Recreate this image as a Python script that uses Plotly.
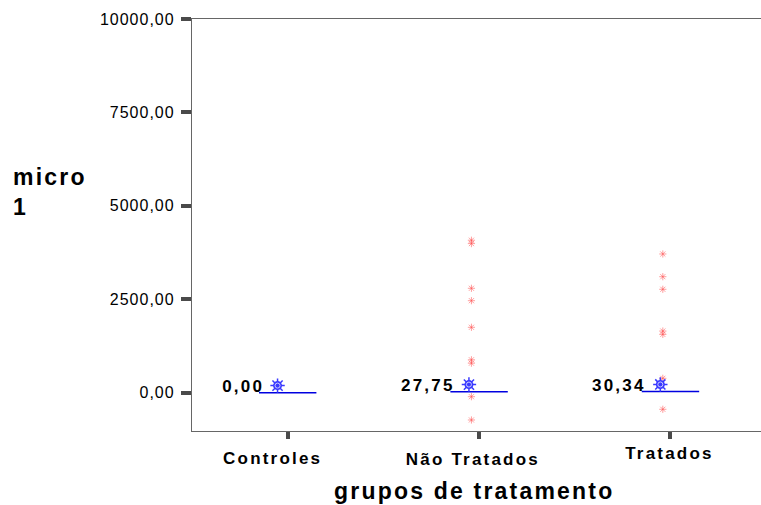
import plotly.graph_objects as go

# ---- data ----
categories = ["Controles", "Não Tratados", "Tratados"]
mean_values = [0.0, 27.75, 30.34]
mean_labels = ["0,00", "27,75", "30,34"]
nao_tratados_points = [4080, 3990, 2794, 2462, 1750, 880, 790, -107, -730]
tratados_points = [3712, 3104, 2767, 1650, 1560, 385, -444]
y_tick_vals = [0, 2500, 5000, 7500, 10000]
y_tick_text = ["0,00", "2500,00", "5000,00", "7500,00", "10000,00"]

# ---- style constants ----
POINT_DX = -0.04
MEAN_MARK_DX = -0.053
MEAN_MARK_LIFT = 190
HALF_LINE = 0.15
BOLD = "Liberation Sans"
RED = "rgba(255,80,80,0.55)"

fig = go.Figure()

# red individual points
for idx, pts in [(1, nao_tratados_points), (2, tratados_points)]:
    fig.add_trace(go.Scatter(
        x=[idx + POINT_DX] * len(pts), y=pts, mode="markers",
        marker=dict(symbol="asterisk-open", size=6, color=RED,
                    line=dict(color=RED, width=1)),
        hoverinfo="skip", showlegend=False))

# mean lines
for idx, m in enumerate(mean_values):
    fig.add_trace(go.Scatter(
        x=[idx - HALF_LINE, idx + HALF_LINE], y=[m, m], mode="lines",
        line=dict(color="#0000e0", width=1.5),
        hoverinfo="skip", showlegend=False))

# mean markers (gear-like)
mark_x = [i + MEAN_MARK_DX for i in range(len(categories))]
mark_y = [m + MEAN_MARK_LIFT for m in mean_values]
fig.add_trace(go.Scatter(
    x=mark_x, y=mark_y, mode="markers",
    marker=dict(symbol="circle", size=9, color="#3a3aff",
                line=dict(color="#2020ff", width=0)),
    hoverinfo="skip", showlegend=False))
fig.add_trace(go.Scatter(
    x=mark_x, y=mark_y, mode="markers",
    marker=dict(symbol="asterisk-open", size=12, color="#3a3aff",
                line=dict(color="#3a3aff", width=1.5)),
    hoverinfo="skip", showlegend=False))
fig.add_trace(go.Scatter(
    x=mark_x, y=mark_y, mode="markers",
    marker=dict(symbol="circle-open", size=5, color="#c8c8ff",
                line=dict(color="#c8c8ff", width=1)),
    hoverinfo="skip", showlegend=False))

annotations = []
# mean value labels
for idx, (m, lab) in enumerate(zip(mean_values, mean_labels)):
    annotations.append(dict(
        x=idx, y=m, xref="x", yref="y", text=lab, showarrow=False,
        xanchor="right", yanchor="middle", align="right",
        xshift=-22, yshift=6,
        font=dict(family=BOLD, size=17, color="#000", weight="bold")))

# category labels
cat_shifts = [(-15, -27), (-6, -28), (-1, -22)]
for idx, (cat, (dx, dy)) in enumerate(zip(categories, cat_shifts)):
    annotations.append(dict(
        x=idx, y=0, xref="x", yref="paper", text=cat, showarrow=False,
        xanchor="center", yanchor="middle", xshift=dx, yshift=dy,
        font=dict(family=BOLD, size=17, color="#000", weight="bold")))

# axis titles
annotations.append(dict(
    x=0.5, y=0, xref="paper", yref="paper", text="grupos de tratamento",
    showarrow=False, xanchor="center", yanchor="middle", xshift=-3, yshift=-60,
    font=dict(family=BOLD, size=23, color="#000", weight="bold")))
annotations.append(dict(
    x=0, y=0.58, xref="paper", yref="paper", text="micro<br>1",
    showarrow=False, xanchor="left", yanchor="middle", align="left",
    xshift=-181,
    font=dict(family=BOLD, size=23, color="#000", weight="bold")))

fig.update_layout(
    width=761, height=505,
    margin=dict(l=192, r=0, t=19, b=74),
    paper_bgcolor="white", plot_bgcolor="white",
    showlegend=False,
    annotations=annotations,
    xaxis=dict(range=[-0.5, 2.473], tickvals=list(range(len(categories))),
               showticklabels=False, ticks="outside", ticklen=7, tickwidth=4,
               tickcolor="#4a4a4a", showgrid=False, zeroline=False,
               showline=True, linecolor="#666", linewidth=1.3, mirror=True),
    yaxis=dict(range=[-1025, 10000], tickvals=y_tick_vals, ticktext=y_tick_text,
               ticks="outside", ticklen=10, tickwidth=4, tickcolor="#4a4a4a",
               showgrid=False, zeroline=False, showline=True, linecolor="#666",
               linewidth=1.3, ticklabelstandoff=3,
               tickfont=dict(family=BOLD, size=16, color="#000")),
)

post = """
var s=document.createElement('style');
s.innerHTML='.ytick text{letter-spacing:1px} .annotation-text{letter-spacing:2.2px}';
document.head.appendChild(s);
"""
fig.write_html("out.html", post_script=post)
